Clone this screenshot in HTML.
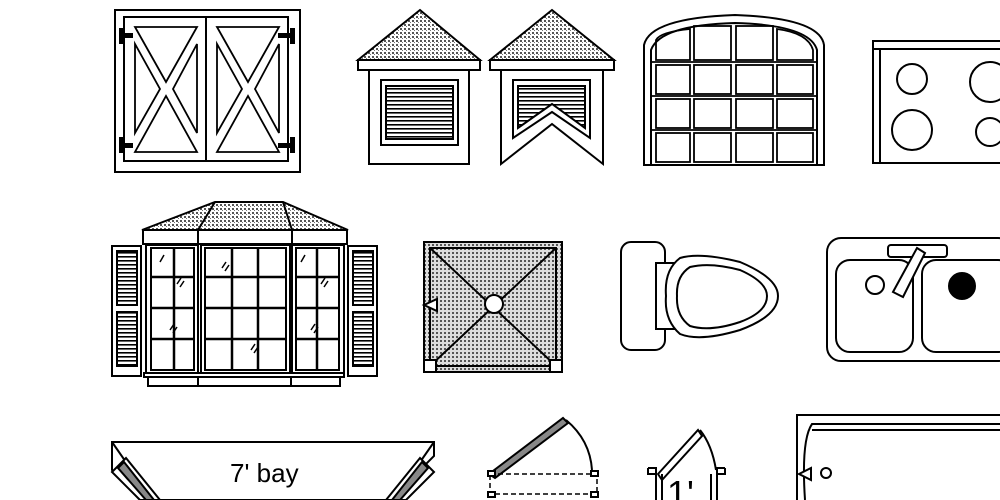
<!DOCTYPE html>
<html><head><meta charset="utf-8"><style>html,body{margin:0;padding:0;background:#fff}svg{display:block}</style></head><body>
<svg width="1000" height="500" viewBox="0 0 1000 500" xmlns="http://www.w3.org/2000/svg" fill="none" stroke="#000" stroke-width="2">
<defs>
<pattern id="h" width="4" height="4" patternUnits="userSpaceOnUse"><rect width="4" height="4" fill="#fff" stroke="none"/><rect width="2" height="2" fill="#555" stroke="none"/><rect x="2" y="2" width="1" height="1" fill="#777" stroke="none"/></pattern>
<pattern id="h2" width="4" height="4" patternUnits="userSpaceOnUse"><rect width="4" height="4" fill="#ddd" stroke="none"/><rect width="2" height="2" fill="#555" stroke="none"/></pattern>
<pattern id="lv" width="4" height="4" patternUnits="userSpaceOnUse"><rect width="4" height="4" fill="#fff" stroke="none"/><rect width="4" height="1.6" fill="#000" stroke="none"/></pattern>
</defs>
<rect x="115" y="10" width="185" height="162"/>
<rect x="124" y="17" width="164" height="144"/>
<line x1="206" y1="17" x2="206" y2="161"/>
<g stroke-width="1.8">
<polygon points="135,27 197,27 166,82"/><polygon points="135,152 197,152 166,96"/>
<polygon points="135,44 135,133 160,89"/><polygon points="197,44 197,133 173,89"/>
<polygon points="217,27 279,27 248,82"/><polygon points="217,152 279,152 248,96"/>
<polygon points="217,44 217,133 242,89"/><polygon points="279,44 279,133 255,89"/>
</g>
<g fill="#000" stroke="none"><rect x="119" y="28" width="5" height="16"/><rect x="119" y="33" width="14" height="5"/><rect x="119" y="137" width="5" height="16"/><rect x="119" y="143" width="14" height="5"/>
<rect x="290" y="28" width="5" height="16"/><rect x="278" y="33" width="14" height="5"/><rect x="290" y="137" width="5" height="16"/><rect x="278" y="143" width="14" height="5"/></g>
<polygon points="420,10 358,60 480,60" fill="url(#h)"/>
<rect x="358" y="60" width="122" height="10"/>
<rect x="369" y="70" width="100" height="94"/>
<rect x="381" y="80" width="77" height="65"/>
<rect x="386" y="86" width="67" height="53" fill="url(#lv)"/>
<polygon points="552,10 490,60 614,60" fill="url(#h)"/>
<rect x="490" y="60" width="124" height="10"/>
<polygon points="501,70 603,70 603,164 552,124 501,164"/>
<polygon points="513,80 590,80 590,138 552,112 513,138"/>
<polygon points="518,86 585,86 585,128 552,104 518,128" fill="url(#lv)"/>
<path d="M644,165 L644,45 Q650,18 735,15 Q820,18 824,45 L824,165"/>
<path d="M651,165 L651,50 Q660,25 735,23 Q810,25 817,50 L817,165"/>
<line x1="643" y1="165" x2="825" y2="165"/>
<g stroke-width="1.8">
<path d="M656,60 L656,40 Q660,32 690,29 L690,60 Z"/><rect x="694" y="26" width="37" height="34"/><rect x="736" y="26" width="37" height="34"/><path d="M777,29 Q808,33 813,50 L813,60 L777,60 Z"/>
<line x1="652" y1="62" x2="816" y2="62"/><line x1="652" y1="96" x2="816" y2="96"/><line x1="652" y1="130" x2="816" y2="130"/>
<rect x="656" y="65" width="34" height="29"/><rect x="694" y="65" width="37" height="29"/><rect x="736" y="65" width="37" height="29"/><rect x="777" y="65" width="36" height="29"/>
<rect x="656" y="99" width="34" height="29"/><rect x="694" y="99" width="37" height="29"/><rect x="736" y="99" width="37" height="29"/><rect x="777" y="99" width="36" height="29"/>
<rect x="656" y="133" width="34" height="29"/><rect x="694" y="133" width="37" height="29"/><rect x="736" y="133" width="37" height="29"/><rect x="777" y="133" width="36" height="29"/>
</g>
<rect x="873" y="41" width="140" height="122"/>
<line x1="873" y1="49" x2="1000" y2="49"/><line x1="880" y1="49" x2="880" y2="163"/>
<circle cx="912" cy="79" r="15"/><circle cx="990" cy="82" r="20"/><circle cx="912" cy="130" r="20"/><circle cx="990" cy="132" r="14"/>
<polygon points="142,230 215,202 283,202 348,230" fill="url(#h)"/>
<line x1="215" y1="202" x2="198" y2="230"/><line x1="283" y1="202" x2="292" y2="230"/>
<rect x="143" y="230" width="204" height="14"/><line x1="198" y1="230" x2="198" y2="244"/><line x1="292" y1="230" x2="292" y2="244"/>
<rect x="112" y="246" width="29" height="130"/><rect x="117" y="251" width="20" height="54" fill="url(#lv)"/><rect x="117" y="312" width="20" height="54" fill="url(#lv)"/>
<rect x="348" y="246" width="29" height="130"/><rect x="353" y="251" width="20" height="54" fill="url(#lv)"/><rect x="353" y="312" width="20" height="54" fill="url(#lv)"/>
<rect x="146" y="245" width="52" height="128"/><rect x="151" y="248" width="43" height="122"/>
<rect x="201" y="245" width="89" height="128"/><rect x="205" y="248" width="81" height="122"/>
<rect x="292" y="245" width="52" height="128"/><rect x="296" y="248" width="43" height="122"/>
<g stroke-width="2.5"><line x1="174" y1="248" x2="174" y2="370"/><line x1="151" y1="277" x2="194" y2="277"/><line x1="151" y1="308" x2="194" y2="308"/><line x1="151" y1="339" x2="194" y2="339"/>
<line x1="317" y1="248" x2="317" y2="370"/><line x1="296" y1="277" x2="339" y2="277"/><line x1="296" y1="308" x2="339" y2="308"/><line x1="296" y1="339" x2="339" y2="339"/>
<line x1="232" y1="248" x2="232" y2="370"/><line x1="258" y1="248" x2="258" y2="370"/><line x1="205" y1="277" x2="286" y2="277"/><line x1="205" y1="308" x2="286" y2="308"/><line x1="205" y1="339" x2="286" y2="339"/></g>
<g stroke-width="1.5"><path d="M160,262 l4,-7 M177,284 l4,-6 M180,287 l4,-6 M170,330 l4,-6 M173,333 l4,-6 M222,268 l4,-6 M225,271 l4,-6 M251,350 l4,-6 M254,353 l4,-6 M301,262 l4,-7 M321,284 l4,-6 M324,287 l4,-6 M311,330 l4,-6 M314,333 l4,-6"/></g>
<rect x="144" y="373" width="200" height="4"/><rect x="148" y="377" width="192" height="9"/><line x1="198" y1="377" x2="198" y2="386"/><line x1="291" y1="377" x2="291" y2="386"/>
<rect x="424" y="242" width="138" height="130" fill="url(#h2)"/>
<rect x="430" y="248" width="126" height="118"/>
<line x1="430" y1="248" x2="556" y2="366"/><line x1="556" y1="248" x2="430" y2="366"/>
<circle cx="494" cy="304" r="9" fill="#fff"/>
<rect x="424" y="360" width="12" height="12" fill="#fff"/><rect x="550" y="360" width="12" height="12" fill="#fff"/>
<polygon points="424,305 437,299 437,311" fill="#fff"/>
<rect x="621" y="242" width="44" height="108" rx="10"/>
<polygon points="656,263 676,263 676,329 656,329" fill="#fff"/>
<path d="M680,258 Q700,252 740,262 Q778,278 778,296 Q778,316 740,330 Q700,342 680,334 Q664,320 666,296 Q664,270 680,258 Z" fill="#fff"/>
<path d="M690,267 Q710,262 740,270 Q767,282 767,296 Q767,312 740,322 Q710,332 690,326 Q676,316 677,296 Q676,276 690,267 Z"/>
<rect x="827" y="238" width="185" height="123" rx="14"/>
<rect x="888" y="245" width="59" height="12" rx="3"/>
<rect x="836" y="260" width="77" height="92" rx="14"/>
<rect x="922" y="260" width="90" height="92" rx="14"/>
<circle cx="875" cy="285" r="9"/><circle cx="962" cy="286" r="13" fill="#000"/>
<polygon points="917,248 925,253 903,297 893,292" fill="#fff"/>
<polygon points="112,442 434,442 434,456 420,470 395,500 140,500 112,470" fill="#fff"/>
<line x1="112" y1="442" x2="128" y2="465"/><line x1="434" y1="442" x2="418" y2="465"/>
<polygon points="112,472 126,458 160,500 140,500" fill="#fff"/><polygon points="118,468 124,462 154,500 146,500" fill="#888"/>
<polygon points="434,472 420,458 386,500 406,500" fill="#fff"/><polygon points="428,468 422,462 392,500 400,500" fill="#888"/>
<text x="230" y="482" font-family="Liberation Sans, sans-serif" font-size="26" fill="#000" stroke="none">7' bay</text>
<polygon points="489,474 563,418 568,423 495,478" fill="#888"/>
<path d="M566,420 Q590,440 592,470"/>
<rect x="490" y="474" width="107" height="20" stroke-dasharray="5,3" stroke-width="1.5"/>
<rect x="488" y="471" width="7" height="5" fill="#fff"/><rect x="591" y="471" width="7" height="5" fill="#fff"/><rect x="488" y="492" width="7" height="5" fill="#fff"/><rect x="591" y="492" width="7" height="5" fill="#fff"/>
<polygon points="658,474 698,430 702,436 662,480" fill="#fff"/>
<path d="M700,430 Q712,445 716,470"/>
<path d="M648,468 L656,468 L656,500 M662,474 L662,500 M648,468 L648,474 L656,474"/>
<path d="M725,468 L717,468 L717,500 M711,474 L711,500 M725,468 L725,474 L717,474"/>
<text x="667" y="506" font-family="Liberation Sans, sans-serif" font-size="36" fill="#000" stroke="none">1'</text>
<path d="M797,500 L797,415 L1000,415"/>
<path d="M805,500 Q801,440 812,424 L1000,424 M812,430 L1000,430"/>
<polygon points="799,474 811,468 811,480" fill="#fff"/><circle cx="826" cy="473" r="5"/>
</svg>
</body></html>
